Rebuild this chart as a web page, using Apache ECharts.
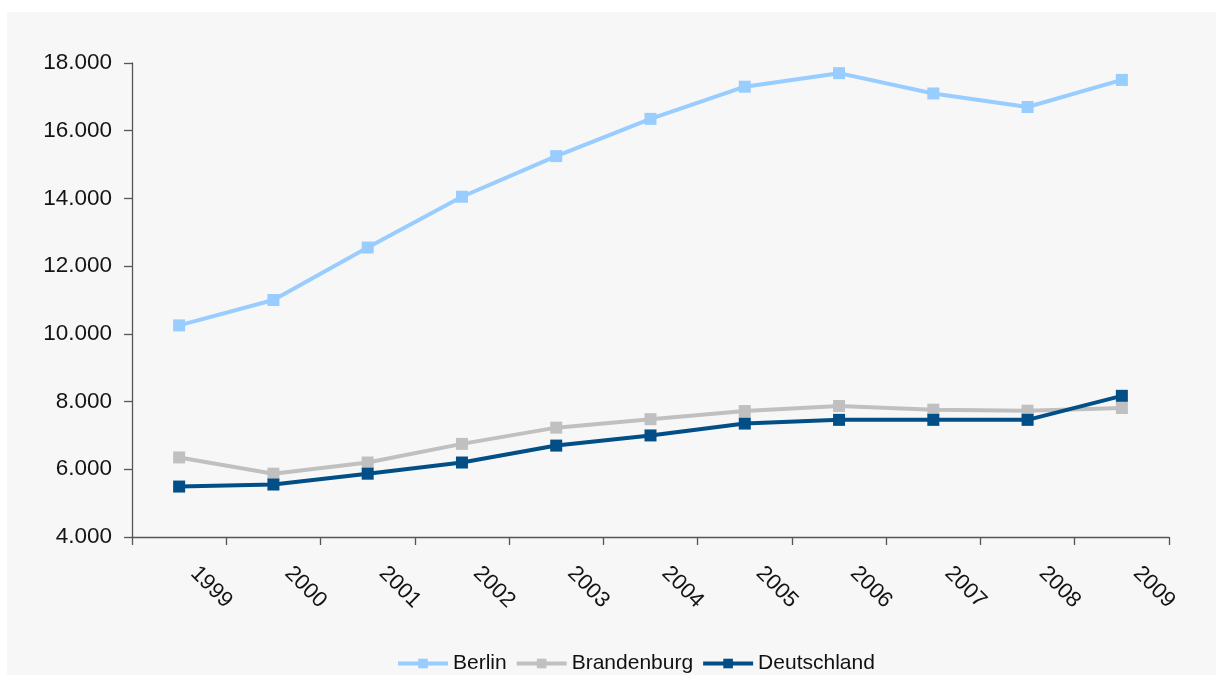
<!DOCTYPE html>
<html>
<head>
<meta charset="utf-8">
<script src="https://cdn.jsdelivr.net/npm/echarts@6/dist/echarts.min.js"></script>
<style>
html,body{margin:0;padding:0;background:#ffffff;}
#chart{width:1216px;height:675px;}
</style>
</head>
<body>
<div id="chart"></div>
<script>
const years = ['1999','2000','2001','2002','2003','2004','2005','2006','2007','2008','2009'];
const berlin = [10250, 11000, 12550, 14050, 15250, 16350, 17300, 17700, 17100, 16700, 17500];
const brandenburg = [6350, 5870, 6200, 6750, 7230, 7480, 7720, 7870, 7760, 7730, 7810];
const deutschland = [5490, 5550, 5870, 6200, 6700, 7000, 7350, 7460, 7460, 7460, 8170];
const seriesNames = ['Berlin', 'Brandenburg', 'Deutschland'];
const seriesColors = ['#99ccff', '#c0c0c0', '#024e86'];

const FONT = '"Liberation Sans", Arial, sans-serif';
const chart = echarts.init(document.getElementById('chart'), null, {renderer: 'canvas'});

function fmt(v) {
  const s = Math.round(v).toString();
  return s.replace(/\B(?=(\d{3})+(?!\d))/g, '.');
}

const dataSets = [berlin, brandenburg, deutschland];

chart.setOption({
  animation: false,
  backgroundColor: '#ffffff',
  graphic: [{
    type: 'rect', z: -10, silent: true,
    shape: {x: 7, y: 12, width: 1209, height: 663},
    style: {fill: '#f7f7f7'}
  }],
  grid: {left: 132, right: 47, top: 63, bottom: 138, containLabel: false},
  legend: {
    left: 391, top: 648,
    itemWidth: 50, itemHeight: 12, itemGap: 8,
    lineStyle: {width: 4},
    textStyle: {fontFamily: FONT, fontSize: 21, color: '#111111'},
    data: seriesNames
  },
  xAxis: {
    type: 'category',
    data: years,
    boundaryGap: true,
    axisLine: {lineStyle: {color: '#555555', width: 1.3}},
    axisTick: {show: true, length: 8, lineStyle: {color: '#555555', width: 1.3}},
    axisLabel: {rotate: -45, margin: 18, padding: [0, 0, 0, 21], fontFamily: FONT, fontSize: 22, color: '#141414'},
    splitLine: {show: false}
  },
  yAxis: {
    type: 'value',
    min: 4000, max: 18000, interval: 2000,
    axisLine: {show: true, lineStyle: {color: '#555555', width: 1.3}},
    axisTick: {show: true, length: 8, lineStyle: {color: '#555555', width: 1.3}},
    axisLabel: {margin: 20, fontFamily: FONT, fontSize: 22.5, color: '#141414', formatter: fmt},
    splitLine: {show: false}
  },
  series: seriesNames.map((n, i) => ({
    name: n,
    type: 'line',
    data: dataSets[i],
    symbol: 'rect',
    symbolSize: 12,
    showSymbol: true,
    lineStyle: {color: seriesColors[i], width: 4},
    itemStyle: {color: seriesColors[i]},
    z: 2 + (i === 2 ? 1 : 0)
  }))
});
</script>
</body>
</html>
